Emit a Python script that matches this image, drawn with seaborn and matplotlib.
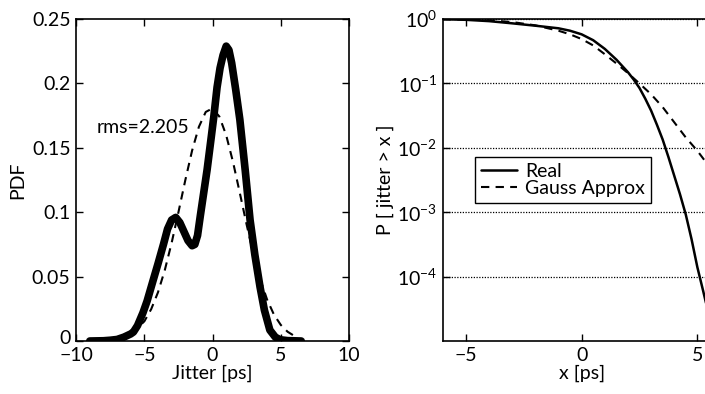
import numpy as np
import pandas as pd
import matplotlib
matplotlib.use("Agg")
import matplotlib.pyplot as plt
import matplotlib.transforms as mtrans
import seaborn as sns
from matplotlib.ticker import FixedLocator, NullLocator, LogFormatterSciNotation

# ---- data ----
real_pdf_x = [-9, -8, -7.5, -7, -6.5, -6, -5.8, -5.5, -5.1, -4.8, -4.36, -4, -3.6, -3.3, -3.0,
              -2.7, -2.4, -2.1, -1.8, -1.5, -1.3, -1.1, -0.9, -0.65, -0.4, -0.1, 0.1, 0.33,
              0.55, 0.77, 1.0, 1.2, 1.4, 1.7, 2.0, 2.4, 2.75, 3.1, 3.48, 3.8, 4.2, 4.6, 4.95,
              5.5, 6.5]
real_pdf_y = [0, 0.0002, 0.0006, 0.0012, 0.003, 0.0055, 0.007, 0.012, 0.022, 0.031, 0.047,
              0.060, 0.075, 0.087, 0.094, 0.096, 0.092, 0.085, 0.078, 0.074, 0.075, 0.082,
              0.097, 0.115, 0.133, 0.158, 0.175, 0.197, 0.212, 0.222, 0.229, 0.226, 0.216,
              0.195, 0.172, 0.132, 0.094, 0.067, 0.042, 0.024, 0.0085, 0.003, 0.001, 0.0003, 0]

gauss_pdf_x = [-8, -7, -6, -5, -4.5, -4, -3.5, -3, -2.5, -2, -1.5, -1, -0.5, 0, 0.5, 1, 1.5,
               2, 2.5, 3, 3.5, 4, 4.5, 5, 5.5, 6]
gauss_pdf_y = [0.0003, 0.0013, 0.0050, 0.0153, 0.0247, 0.0378, 0.0551, 0.0762, 0.1001, 0.1248,
               0.1479, 0.1664, 0.1779, 0.1807, 0.1743, 0.1598, 0.1390, 0.1149, 0.0903, 0.0673,
               0.0477, 0.0321, 0.0205, 0.0125, 0.0072, 0.0039]

real_ccdf_x = [-6, -5, -4, -3, -2, -1, -0.5, 0, 0.5, 1, 1.5, 2, 2.25, 2.5, 2.75, 3, 3.25, 3.5,
               3.75, 4, 4.25, 4.5, 4.75, 5, 5.25, 5.5]
real_ccdf_y = [0.995, 0.975, 0.93, 0.86, 0.79, 0.72, 0.66, 0.58, 0.47, 0.345, 0.235, 0.15,
               0.115, 0.085, 0.058, 0.038, 0.023, 0.0135, 0.0072, 0.0037, 0.0019, 0.00092,
               0.00038, 0.00014, 0.00006, 0.000025]

gauss_ccdf_x = [-6, -5, -4, -3, -2, -1, -0.5, 0, 0.5, 1, 1.5, 2, 2.5, 3, 3.5, 4, 4.5, 5, 5.5, 6]
gauss_ccdf_y = [0.995, 0.985, 0.96, 0.90, 0.80, 0.66, 0.58, 0.49, 0.39, 0.285, 0.205, 0.145,
                0.10, 0.068, 0.043, 0.025, 0.0145, 0.0090, 0.0052, 0.0029]

pdf_xticks = [-10, -5, 0, 5, 10]
pdf_yticks = [0, 0.05, 0.1, 0.15, 0.2, 0.25]
pdf_yticklabels = ["0", "0.05", "0.1", "0.15", "0.2", "0.25"]
ccdf_xticks = [-5, 0, 5]
ccdf_yticks = [1, 1e-1, 1e-2, 1e-3, 1e-4]
rms_label = "rms=2.205"

# ---- style ----
sns.set_style("ticks")
plt.rcParams["font.family"] = ["Lato", "DejaVu Sans"]
plt.rcParams["mathtext.fontset"] = "custom"
plt.rcParams["mathtext.rm"] = "Lato"
plt.rcParams["mathtext.it"] = "Lato:italic"
plt.rcParams["font.size"] = 14
plt.rcParams["text.color"] = "black"
plt.rcParams["axes.labelcolor"] = "black"
plt.rcParams["xtick.color"] = "black"
plt.rcParams["ytick.color"] = "black"
plt.rcParams["axes.edgecolor"] = "black"

fig = plt.figure(figsize=(7.05, 3.94), dpi=100)
ax1 = fig.add_axes([0.108, 0.1345, 0.387, 0.817])
ax2 = fig.add_axes([0.628, 0.1345, 0.394, 0.817])

df_real_pdf = pd.DataFrame({"x": real_pdf_x, "y": real_pdf_y})
df_gauss_pdf = pd.DataFrame({"x": gauss_pdf_x, "y": gauss_pdf_y})
df_real_ccdf = pd.DataFrame({"x": real_ccdf_x, "y": real_ccdf_y})
df_gauss_ccdf = pd.DataFrame({"x": gauss_ccdf_x, "y": gauss_ccdf_y})

# left panel
sns.lineplot(data=df_gauss_pdf, x="x", y="y", ax=ax1, color="black", lw=1.5,
             linestyle=(0, (4, 3)), estimator=None, sort=False)
sns.lineplot(data=df_real_pdf, x="x", y="y", ax=ax1, color="black", lw=5.5,
             estimator=None, sort=False, solid_capstyle="round", solid_joinstyle="round")
ax1.set_xlim(-10, 10)
ax1.set_ylim(0, 0.25)
ax1.set_xticks(pdf_xticks)
ax1.set_yticks(pdf_yticks)
ax1.set_yticklabels(pdf_yticklabels)
ax1.set_xlabel("Jitter [ps]", labelpad=0)
ax1.set_ylabel("PDF", labelpad=4)
ax1.text(-8.5, 0.166, rms_label, ha="left", va="center", fontsize=14)

# right panel
sns.lineplot(data=df_real_ccdf, x="x", y="y", ax=ax2, color="black", lw=1.8,
             estimator=None, sort=False, label="Real", solid_joinstyle="round")
sns.lineplot(data=df_gauss_ccdf, x="x", y="y", ax=ax2, color="black", lw=1.5,
             linestyle=(0, (4, 3)), estimator=None, sort=False, label="Gauss Approx")
ax2.set_yscale("log")
ax2.set_xlim(-6, 6)
ax2.set_ylim(1e-5, 1)
ax2.xaxis.set_major_locator(FixedLocator(ccdf_xticks))
ax2.yaxis.set_major_locator(FixedLocator(ccdf_yticks))
ax2.yaxis.set_major_formatter(LogFormatterSciNotation())
ax2.yaxis.set_minor_locator(NullLocator())
ax2.yaxis.grid(True, which="major", linestyle=(0, (1, 1.2)), color="black", lw=0.9)
ax2.xaxis.grid(False)
ax2.set_xlabel("x [ps]", labelpad=0)
ax2.set_ylabel("P [ jitter > x ]", labelpad=2)
leg = ax2.legend(loc="upper left", bbox_to_anchor=(0.115, 0.571), fancybox=False,
                 edgecolor="black", framealpha=1, handlelength=1.9, handletextpad=0.4,
                 borderpad=0.3, labelspacing=0.0, borderaxespad=0, fontsize=14)
leg.get_frame().set_linewidth(1.0)

for ax in (ax1, ax2):
    ax.tick_params(direction="in", top=True, right=True, length=5, width=1, pad=4)
    ax.tick_params(axis="x", pad=4.5)
    for s in ax.spines.values():
        s.set_visible(True)
        s.set_linewidth(1.2)
        s.set_color("black")

# nudge the bottom-left "0" label up slightly so it does not collide with "-10"
zero_lbl = ax1.yaxis.get_major_ticks()[0].label1
zero_lbl.set_transform(zero_lbl.get_transform() +
                       mtrans.ScaledTranslation(0, 3 / 72, fig.dpi_scale_trans))

fig.savefig("out.png", dpi=100)
